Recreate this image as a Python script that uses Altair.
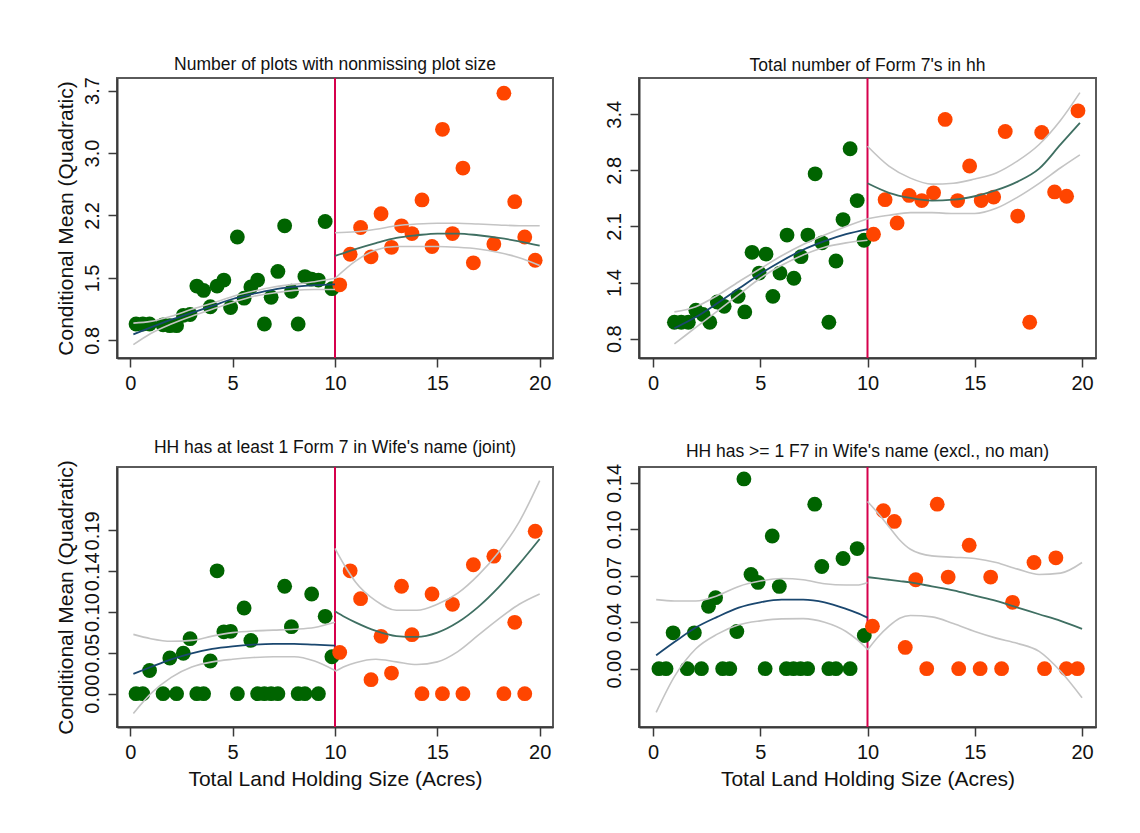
import altair as alt
import pandas as pd

FONT = "Liberation Sans"
CUTOFF = 10
X_DOMAIN = [-0.65, 20.65]
X_TICKS = [0, 5, 10, 15, 20]

# ---- bin centres (acres) ----
LEFT_BINS = [0.28, 0.61, 0.94, 1.60, 1.93, 2.26, 2.59, 2.92, 3.25, 3.58, 3.91, 4.24, 4.57, 4.90,
             5.23, 5.56, 5.89, 6.22, 6.55, 6.88, 7.21, 7.54, 7.87, 8.20, 8.53, 8.86, 9.19, 9.52, 9.85]
RIGHT_BINS = [10.23, 10.74, 11.25, 11.76, 12.25, 12.76, 13.25, 13.76, 14.25, 14.74, 15.25, 15.74,
              16.25, 16.76, 17.76, 18.25, 18.78, 19.27, 19.78]
P2_LEFT_BINS = [1.0, 1.32, 1.65, 2.0, 2.33, 2.65, 3.0, 3.32, 3.97, 4.28, 4.62, 4.95, 5.27, 5.59,
                5.92, 6.25, 6.57, 6.90, 7.22, 7.56, 7.88, 8.20, 8.53, 8.86, 9.19, 9.52, 9.84]
P2_RIGHT_BINS = [10.28, 10.82, 11.38, 11.94, 12.53, 13.08, 13.62, 14.20, 14.76, 15.30, 15.88,
                 16.42, 17.00, 17.56, 18.12, 18.72, 19.28, 19.81]

# ---- panel 1: Number of plots with nonmissing plot size ----
P1_LEFT_Y = [0.99, 0.99, 0.99, 0.98, 0.97, 0.97, 1.09, 1.10, 1.43, 1.38, 1.19, 1.43, 1.50, 1.18,
             2.00, 1.29, 1.42, 1.50, 0.99, 1.30, 1.60, 2.13, 1.37, 0.99, 1.54, 1.51, 1.50, 2.18, 1.40]
P1_RIGHT_Y = [1.445, 1.80, 2.11, 1.77, 2.27, 1.88, 2.13, 2.04, 2.43, 1.89, 3.25, 2.04, 2.80, 1.70,
              1.92, 3.67, 2.41, 2.00, 1.73]
P1_L_X = [0.15, 1, 2, 3, 4, 5, 6, 7, 8, 9, 10]
P1_L_FIT = [0.87, 0.95, 1.04, 1.12, 1.20, 1.28, 1.34, 1.39, 1.42, 1.44, 1.45]
P1_L_HI = [1.00, 1.02, 1.08, 1.16, 1.23, 1.31, 1.37, 1.42, 1.45, 1.48, 1.52]
P1_L_LO = [0.75, 0.88, 0.99, 1.08, 1.16, 1.24, 1.31, 1.35, 1.38, 1.39, 1.39]
P1_R_X = [10, 11, 12, 13, 14, 15, 16, 17, 18, 19, 20]
P1_R_FIT = [1.78, 1.86, 1.93, 1.99, 2.02, 2.04, 2.04, 2.02, 1.99, 1.95, 1.90]
P1_R_HI = [2.05, 2.06, 2.09, 2.13, 2.15, 2.16, 2.16, 2.15, 2.14, 2.13, 2.13]
P1_R_LO = [1.52, 1.72, 1.85, 1.89, 1.89, 1.89, 1.88, 1.86, 1.82, 1.76, 1.67]
P1_Y_DOMAIN = [0.595, 3.846]
P1_Y_TICKS = [0.8, 1.525, 2.25, 2.975, 3.7]
P1_Y_LABELS = ["0.8", "1.5", "2.2", "3.0", "3.7"]

# ---- panel 2: Total number of Form 7's in hh ----
P2_LEFT_Y = [0.99, 0.99, 0.99, 1.13, 1.08, 0.99, 1.225, 1.175, 1.29, 1.11, 1.80, 1.56, 1.78, 1.29,
             1.56, 2.00, 1.50, 1.75, 2.00, 2.71, 1.91, 0.99, 1.70, 2.18, 3.00, 2.40, 1.94]
P2_RIGHT_Y = [2.01, 2.41, 2.14, 2.46, 2.40, 2.49, 3.34, 2.40, 2.80, 2.40, 2.44, 3.20, 2.22, 0.99,
              3.19, 2.50, 2.45, 3.44]
P2_L_X = [1.0, 2, 3, 4, 5, 6, 7, 8, 9, 10]
P2_L_FIT = [0.92, 1.05, 1.21, 1.38, 1.55, 1.70, 1.83, 1.93, 2.01, 2.07]
P2_L_HI = [1.11, 1.17, 1.30, 1.46, 1.61, 1.76, 1.89, 2.00, 2.10, 2.19]
P2_L_LO = [0.74, 0.93, 1.12, 1.31, 1.50, 1.65, 1.77, 1.86, 1.91, 1.94]
P2_R_X = [10, 11, 12, 13, 14, 15, 16, 17, 18, 19, 19.9]
P2_R_FIT = [2.60, 2.49, 2.43, 2.40, 2.41, 2.45, 2.52, 2.62, 2.77, 3.05, 3.30]
P2_R_HI = [3.03, 2.80, 2.66, 2.59, 2.60, 2.65, 2.72, 2.86, 3.05, 3.33, 3.65]
P2_R_LO = [2.19, 2.23, 2.26, 2.26, 2.25, 2.25, 2.31, 2.44, 2.60, 2.78, 2.93]
P2_Y_DOMAIN = [0.576, 3.82]
P2_Y_TICKS = [0.8, 1.45, 2.1, 2.75, 3.4]
P2_Y_LABELS = ["0.8", "1.4", "2.1", "2.8", "3.4"]

# ---- panel 3: HH has at least 1 Form 7 in Wife's name (joint) ----
P3_LEFT_Y = [0, 0, 0.027, 0, 0.0415, 0, 0.047, 0.064, 0, 0, 0.038, 0.143, 0.072, 0.0725, 0,
             0.0997, 0.062, 0, 0, 0, 0, 0.125, 0.078, 0, 0, 0.116, 0, 0.090, 0.043]
P3_RIGHT_Y = [0.048, 0.143, 0.1106, 0.0163, 0.0667, 0.024, 0.125, 0.0687, 0, 0.116, 0, 0.104, 0,
              0.150, 0.160, 0, 0.083, 0, 0.189]
P3_L_X = [0.15, 1, 2, 3, 4, 5, 6, 7, 8, 9, 10]
P3_L_FIT = [0.023, 0.031, 0.040, 0.047, 0.052, 0.055, 0.057, 0.058, 0.058, 0.057, 0.056]
P3_L_HI = [0.069, 0.064, 0.061, 0.062, 0.067, 0.071, 0.073, 0.074, 0.075, 0.077, 0.083]
P3_L_LO = [-0.023, 0.0, 0.019, 0.031, 0.037, 0.040, 0.042, 0.043, 0.043, 0.038, 0.027]
P3_R_X = [10, 10.5, 11, 12, 13, 14, 15, 16, 17, 18, 19, 20]
P3_R_FIT = [0.096, 0.089, 0.083, 0.073, 0.067, 0.066, 0.071, 0.083, 0.101, 0.124, 0.151, 0.180]
P3_R_HI = [0.169, 0.148, 0.130, 0.108, 0.097, 0.097, 0.104, 0.117, 0.138, 0.165, 0.200, 0.248]
P3_R_LO = [0.026, 0.032, 0.036, 0.040, 0.037, 0.034, 0.037, 0.049, 0.068, 0.087, 0.104, 0.116]
P3_Y_DOMAIN = [-0.0388, 0.2638]
P3_Y_TICKS = [0, 0.0475, 0.095, 0.1425, 0.19]
P3_Y_LABELS = ["0.00", "0.05", "0.10", "0.14", "0.19"]

# ---- panel 4: HH has >= 1 F7 in Wife's name (excl., no man) ----
P4_LEFT_Y = [0, 0, 0.027, 0, 0.027, 0, 0.047, 0.0535, 0, 0, 0.028, 0.143, 0.071, 0.065, 0,
             0.100, 0.062, 0, 0, 0, 0, 0.124, 0.077, 0, 0, 0.083, 0, 0.0905, 0.025]
P4_RIGHT_Y = [0.032, 0.119, 0.111, 0.016, 0.067, 0, 0.124, 0.069, 0, 0.093, 0, 0.069, 0, 0.050,
              0.080, 0, 0.0835, 0, 0]
P4_L_X = [0.15, 1, 2, 3, 4, 5, 6, 7, 8, 9, 9.5, 10]
P4_L_FIT = [0.010, 0.020, 0.031, 0.039, 0.046, 0.050, 0.052, 0.052, 0.050, 0.045, 0.042, 0.0385]
P4_L_HI = [0.052, 0.051, 0.051, 0.055, 0.062, 0.066, 0.068, 0.067, 0.064, 0.063, 0.063, 0.065]
P4_L_LO = [-0.033, -0.006, 0.015, 0.026, 0.033, 0.036, 0.0375, 0.0377, 0.035, 0.028, 0.022, 0.0146]
P4_R_X = [10, 10.5, 11, 11.5, 12, 13, 14, 15, 16, 17, 18, 19, 20]
P4_R_FIT = [0.069, 0.068, 0.067, 0.066, 0.065, 0.062, 0.059, 0.055, 0.051, 0.046, 0.041, 0.036, 0.030]
P4_R_HI = [0.126, 0.117, 0.107, 0.097, 0.090, 0.085, 0.084, 0.083, 0.080, 0.075, 0.071, 0.072, 0.080]
P4_R_LO = [0.014, 0.024, 0.032, 0.038, 0.040, 0.039, 0.034, 0.028, 0.023, 0.019, 0.013, -0.002, -0.022]
P4_Y_DOMAIN = [-0.044, 0.152]
P4_Y_TICKS = [0, 0.035, 0.07, 0.105, 0.14]
P4_Y_LABELS = ["0.00", "0.04", "0.07", "0.10", "0.14"]

TITLES = ["Number of plots with nonmissing plot size",
          "Total number of Form 7's in hh",
          "HH has at least 1 Form 7 in Wife's name (joint)",
          "HH has >= 1 F7 in Wife's name (excl., no man)"]
Y_TITLE = "Conditional Mean (Quadratic)"
X_TITLE = "Total Land Holding Size (Acres)"

GREEN = "#006400"
ORANGE = "#ff4500"
RED = "#d6004c"
NAVY = "#1a476f"
TEAL = "#3f6f62"
CI_GRAY = "#c4c4c4"


def js_list(vals):
    return "[" + ",".join(repr(v) if not isinstance(v, str) else "'" + v + "'" for v in vals) + "]"


def panel(title, lx, ly, rx, ry, curves, ydom, yticks, ylabels, w, h, show_ytitle, show_xtitle):
    pts = pd.DataFrame({"x": list(lx) + list(rx), "y": list(ly) + list(ry),
                        "side": ["L"] * len(lx) + ["R"] * len(rx)})
    rows = []
    for name, xs, ys in curves:
        for xv, yv in zip(xs, ys):
            rows.append({"x": xv, "y": yv, "curve": name})
    cdf = pd.DataFrame(rows)

    x_axis = alt.Axis(values=X_TICKS, format="d", title=X_TITLE if show_xtitle else None,
                      labelFlush=False)
    y_axis = alt.Axis(values=yticks, title=Y_TITLE if show_ytitle else None, labelAngle=270,
                      labelExpr=f"{js_list(ylabels)}[indexof({js_list(yticks)}, datum.value)]")
    xe = alt.X("x:Q", scale=alt.Scale(domain=X_DOMAIN, nice=False, zero=False), axis=x_axis)
    ye = alt.Y("y:Q", scale=alt.Scale(domain=ydom, nice=False, zero=False), axis=y_axis)

    rule = alt.Chart(pd.DataFrame({"x": [CUTOFF]})).mark_rule(color=RED, strokeWidth=2).encode(x=xe)
    dots = alt.Chart(pts).mark_circle(size=220, opacity=1).encode(
        x=xe, y=ye,
        color=alt.Color("side:N", scale=alt.Scale(domain=["L", "R"], range=[GREEN, ORANGE]), legend=None))
    ci = alt.Chart(cdf).transform_filter(
        alt.FieldOneOfPredicate(field="curve", oneOf=["hiL", "loL", "hiR", "loR"])
    ).mark_line(color=CI_GRAY, strokeWidth=1.6, interpolate="monotone").encode(x=xe, y=ye, detail="curve:N")
    fit_l = alt.Chart(cdf).transform_filter(alt.datum.curve == "fitL").mark_line(
        color=NAVY, strokeWidth=1.8, interpolate="monotone").encode(x=xe, y=ye)
    fit_r = alt.Chart(cdf).transform_filter(alt.datum.curve == "fitR").mark_line(
        color=TEAL, strokeWidth=1.8, interpolate="monotone").encode(x=xe, y=ye)

    return alt.layer(rule, dots, ci, fit_l, fit_r).properties(
        width=w, height=h,
        title=alt.TitleParams(title, fontSize=17.5, font=FONT, fontWeight="normal", color="#111",
                              offset=3, anchor="middle"))


def curves(lx, lfit, lhi, llo, rx, rfit, rhi, rlo):
    return [("fitL", lx, lfit), ("hiL", lx, lhi), ("loL", lx, llo),
            ("fitR", rx, rfit), ("hiR", rx, rhi), ("loR", rx, rlo)]


W_LEFT, W_RIGHT, H_TOP, H_BOT = 436, 457, 280, 260

p1 = panel(TITLES[0], LEFT_BINS, P1_LEFT_Y, RIGHT_BINS, P1_RIGHT_Y,
           curves(P1_L_X, P1_L_FIT, P1_L_HI, P1_L_LO, P1_R_X, P1_R_FIT, P1_R_HI, P1_R_LO),
           P1_Y_DOMAIN, P1_Y_TICKS, P1_Y_LABELS, W_LEFT, H_TOP, True, False)
p2 = panel(TITLES[1], P2_LEFT_BINS, P2_LEFT_Y, P2_RIGHT_BINS, P2_RIGHT_Y,
           curves(P2_L_X, P2_L_FIT, P2_L_HI, P2_L_LO, P2_R_X, P2_R_FIT, P2_R_HI, P2_R_LO),
           P2_Y_DOMAIN, P2_Y_TICKS, P2_Y_LABELS, W_RIGHT, H_TOP, False, False)
p3 = panel(TITLES[2], LEFT_BINS, P3_LEFT_Y, RIGHT_BINS, P3_RIGHT_Y,
           curves(P3_L_X, P3_L_FIT, P3_L_HI, P3_L_LO, P3_R_X, P3_R_FIT, P3_R_HI, P3_R_LO),
           P3_Y_DOMAIN, P3_Y_TICKS, P3_Y_LABELS, W_LEFT, H_BOT, True, True)
p4 = panel(TITLES[3], LEFT_BINS, P4_LEFT_Y, RIGHT_BINS, P4_RIGHT_Y,
           curves(P4_L_X, P4_L_FIT, P4_L_HI, P4_L_LO, P4_R_X, P4_R_FIT, P4_R_HI, P4_R_LO),
           P4_Y_DOMAIN, P4_Y_TICKS, P4_Y_LABELS, W_RIGHT, H_BOT, False, True)

chart = alt.concat(p1, p2, p3, p4, columns=2, spacing={"row": 109, "column": 86},
                   align="each", bounds="flush").properties(
    padding={"left": 45, "top": 47, "right": 20, "bottom": 20},
    background="white",
).configure_view(
    stroke="#5a5a5a", strokeWidth=2
).configure_axis(
    grid=False, domainColor="#3a3a3a", domainWidth=2, tickColor="#3a3a3a", tickWidth=1.5,
    tickSize=9, labelFont=FONT, labelFontSize=20, labelColor="#111", labelPadding=6,
    titleFont=FONT, titleFontSize=21, titleFontWeight="normal", titleColor="#111", titlePadding=6
)

chart.save("out.html", embed_options={"renderer": "svg", "actions": False})
